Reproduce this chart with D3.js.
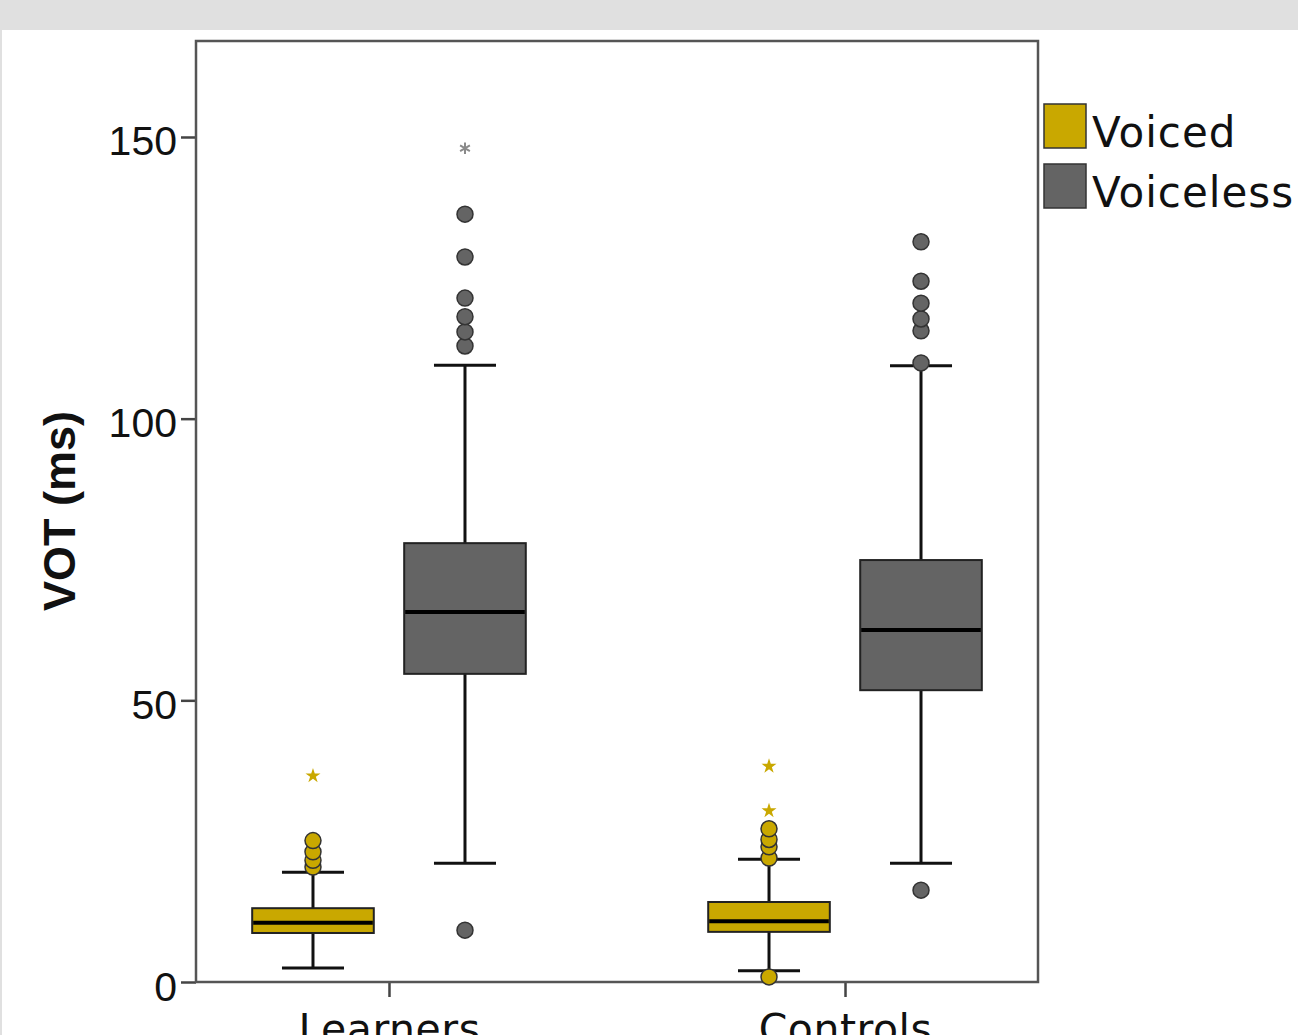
<!DOCTYPE html>
<html>
<head>
<meta charset="utf-8">
<script src="https://cdn.jsdelivr.net/npm/d3@7"></script>
<style>
  body { margin: 0; background: #e0e0e0; overflow: hidden; }
  svg { display: block; }
</style>
</head>
<body>
<div id="chart"></div>
<script>
// Categories and series
const categories = ["Learners", "Controls"];
const seriesNames = ["Voiced", "Voiceless"];
const yTicks = [0, 50, 100, 150];

// Box stats per category: [whiskerLow, q1, median, q3, whiskerHigh]
const voicedStats = [[2.5, 8.7, 10.5, 13.1, 19.5], [2.0, 8.9, 10.8, 14.2, 21.8]];
const voicelessStats = [[21.1, 54.7, 65.7, 77.9, 109.5], [21.1, 51.8, 62.5, 74.9, 109.4]];

// Outliers (circles) and extremes (stars)
const voicedOutliers = [[20.4, 21.6, 23.1, 25.1], [0.9, 22.0, 24.0, 25.3, 27.2]];
const voicelessOutliers = [[9.2, 112.9, 115.4, 118.1, 121.4, 128.7, 136.3], [16.3, 109.9, 115.6, 117.7, 120.5, 124.4, 131.4]];
const voicedExtremes = [[36.6], [30.4, 38.3]];
const voicelessExtremes = [[148.0], []];

const COLORS = { "Voiced": "#c9a800", "Voiceless": "#646464" };
const STAR_COLORS = { "Voiced": "#c9a800", "Voiceless": "#8a8a8a" };

const width = 1298, height = 1035;
const plot = { left: 196, right: 1038, top: 41, bottom: 982 };

const svg = d3.select("#chart").append("svg")
    .attr("width", width)
    .attr("height", height);

// white panel
svg.append("rect").attr("x", 2).attr("y", 30).attr("width", width - 2).attr("height", height - 30).attr("fill", "#fff");

const y = d3.scaleLinear().domain([0, 167.04]).range([plot.bottom, plot.top]);
const x = d3.scalePoint().domain(categories).range([plot.left, plot.right]).padding(0.4232);
const xs = d3.scaleBand().domain(seriesNames).range([-152, 152]);
const boxW = xs.bandwidth() * 0.8;
const capW = boxW * 0.51;

// build rows from the arrays
const rows = [];
categories.forEach((c, i) => {
    rows.push({ cat: c, series: "Voiced", s: voicedStats[i], out: voicedOutliers[i], ext: voicedExtremes[i] });
    rows.push({ cat: c, series: "Voiceless", s: voicelessStats[i], out: voicelessOutliers[i], ext: voicelessExtremes[i] });
});
const cx = d => x(d.cat) + xs(d.series) + xs.bandwidth() / 2;

// Axes
const yAxis = svg.append("g")
    .attr("transform", `translate(${plot.left},0)`)
    .call(d3.axisLeft(y).tickValues(yTicks).tickSize(15).tickPadding(4));
yAxis.select(".domain").remove();
yAxis.selectAll("line").attr("stroke", "#444").attr("stroke-width", 2.5);
yAxis.selectAll("text")
    .attr("dy", 18)
    .attr("fill", "#111")
    .style("font-family", "'Liberation Sans', Arial, sans-serif")
    .style("font-size", "41px");

const xAxis = svg.append("g")
    .attr("transform", `translate(0,${plot.bottom})`)
    .call(d3.axisBottom(x).tickSize(15).tickPadding(17));
xAxis.select(".domain").remove();
xAxis.selectAll("line").attr("stroke", "#444").attr("stroke-width", 2.5);
xAxis.selectAll("text")
    .attr("fill", "#111")
    .style("font-family", "'DejaVu Sans', sans-serif")
    .style("font-size", "41px")
    .style("letter-spacing", "0.5px");

// Frame
svg.append("rect")
    .attr("x", plot.left).attr("y", plot.top)
    .attr("width", plot.right - plot.left).attr("height", plot.bottom - plot.top)
    .attr("fill", "none").attr("stroke", "#555").attr("stroke-width", 2.5);

// Y title
svg.append("text")
    .attr("transform", "rotate(-90)")
    .attr("x", -511)
    .attr("y", 75)
    .attr("text-anchor", "middle")
    .attr("fill", "#111")
    .style("font-family", "'Liberation Sans', Arial, sans-serif")
    .style("font-weight", "bold")
    .style("font-size", "45px")
    .text("VOT (ms)");

// Boxes
const g = svg.append("g").selectAll("g").data(rows).join("g");

// whisker stems
g.append("line")
    .attr("x1", cx).attr("x2", cx)
    .attr("y1", d => y(d.s[0])).attr("y2", d => y(d.s[4]))
    .attr("stroke", "#111").attr("stroke-width", 3);
// caps
g.selectAll(".cap").data(d => [d.s[0], d.s[4]].map(v => ({ v, d }))).join("line")
    .attr("x1", e => cx(e.d) - capW / 2).attr("x2", e => cx(e.d) + capW / 2)
    .attr("y1", e => y(e.v)).attr("y2", e => y(e.v))
    .attr("stroke", "#111").attr("stroke-width", 3);
// box
g.append("rect")
    .attr("x", d => cx(d) - boxW / 2)
    .attr("y", d => y(d.s[3]))
    .attr("width", boxW)
    .attr("height", d => y(d.s[1]) - y(d.s[3]))
    .attr("fill", d => COLORS[d.series])
    .attr("stroke", "#222").attr("stroke-width", 2);
// median
g.append("line")
    .attr("x1", d => cx(d) - boxW / 2 + 1).attr("x2", d => cx(d) + boxW / 2 - 1)
    .attr("y1", d => y(d.s[2])).attr("y2", d => y(d.s[2]))
    .attr("stroke", "#000").attr("stroke-width", 4);
// outliers
g.selectAll(".out").data(d => d.out.map(v => ({ v, d }))).join("circle")
    .attr("cx", e => cx(e.d)).attr("cy", e => y(e.v)).attr("r", 8)
    .attr("fill", e => COLORS[e.d.series])
    .attr("stroke", "#333").attr("stroke-width", 1.5);
// extremes
g.selectAll(".ext").data(d => d.ext.map(v => ({ v, d }))).join("path")
    .attr("transform", e => `translate(${cx(e.d)},${y(e.v)})`)
    .attr("d", e => e.d.series === "Voiced"
        ? d3.symbol(d3.symbolStar, 70)()
        : d3.symbol(d3.symbolAsterisk, 90)())
    .attr("fill", e => e.d.series === "Voiced" ? STAR_COLORS.Voiced : "none")
    .attr("stroke", e => e.d.series === "Voiced" ? "none" : STAR_COLORS.Voiceless)
    .attr("stroke-width", 2);

// Legend
const legend = svg.append("g").selectAll("g").data(seriesNames).join("g")
    .attr("transform", (d, i) => `translate(1044,${104 + i * 60})`);
legend.append("rect")
    .attr("width", 42).attr("height", 44)
    .attr("fill", d => COLORS[d])
    .attr("stroke", "#333").attr("stroke-width", 1.5);
legend.append("text")
    .attr("x", 48).attr("y", 43)
    .attr("fill", "#111")
    .style("font-family", "'DejaVu Sans', sans-serif")
    .style("font-size", "42px")
    .style("letter-spacing", "1px")
    .text(d => d);
</script>
</body>
</html>
